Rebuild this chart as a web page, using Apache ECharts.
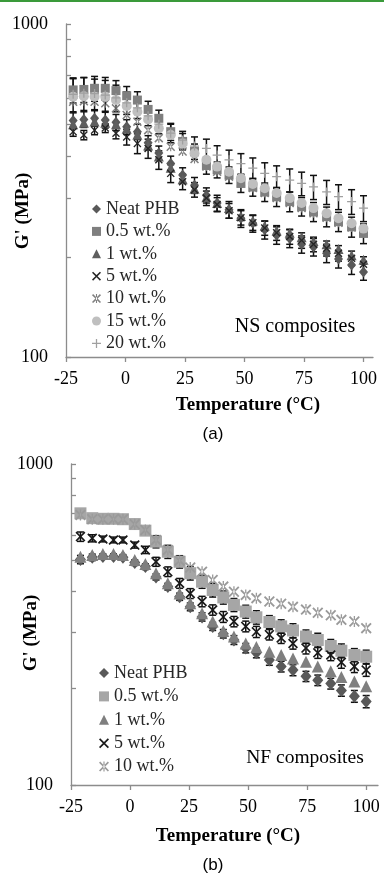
<!DOCTYPE html>
<html><head><meta charset="utf-8">
<script src="https://cdn.jsdelivr.net/npm/echarts@6/dist/echarts.min.js"></script>
<style>
html,body{margin:0;padding:0;background:#fff;width:384px;height:873px;overflow:hidden}
#a{position:absolute;left:0;top:0;width:384px;height:450px}
#b{position:absolute;left:0;top:450px;width:384px;height:423px}
</style></head>
<body><div id="a"></div><div id="b"></div>
<script>
// ---------- (a) NS composites ----------
const tempNS = [-22,-17.5,-13,-8.5,-4,0.5,5,9.5,14,19,24,29,34,38.5,43.5,48.5,53.5,58.5,63.5,69,74,79,84.5,89.5,95,100];
const nsNeat = [513,517,521,515,507,491,475,440,410,381,352,328,306,290,277,261,252,241,232,227,218,214,205,197,189,180];
const ns05   = [634,636,641,641,631,609,591,554,521,475,444,414,376,365,352,332,324,313,303,293,283,273,264,255,246,235];
const ns1    = [500,505,510,505,500,485,465,432,400,370,342,320,302,290,280,265,257,248,240,236,229,223,218,211,202,196];
const ns5    = [475,464,480,487,470,458,438,423,391,356,336,318,300,287,275,262,253,244,236,230,224,218,212,205,198,190];
const ns10   = [584,586,584,578,558,533,509,480,454,428,414,393,373,360,348,334,322,311,300,290,280,270,262,253,245,238];
const ns15   = [605,607,605,605,591,567,545,517,486,464,438,409,391,373,360,344,331,321,311,300,290,280,270,261,252,243];
const ns20   = [615,620,618,612,600,580,560,530,500,470,448,430,423,404,391,381,369,356,348,340,332,324,313,303,293,280];
const nsNeatErr = [28,28,28,28,28,25,25,22,20,20,18,18,16,16,16,16,15,15,14,14,13,13,13,12,12,10];
const ns05Err   = [55,55,55,50,45,40,35,32,30,28,25,22,22,20,20,20,20,20,20,20,18,18,18,17,17,16];
const ns5Err    = [15,15,15,15,18,25,30,28,25,22,18,16,15,14,14,13,13,12,12,12,12,11,11,11,10,10];
const ns20Err   = [70,70,65,65,55,45,40,35,32,30,28,28,28,27,27,27,27,27,27,27,27,27,26,26,25,25];
const nsNames = ['Neat PHB','0.5 wt.%','1 wt.%','5 wt.%','10 wt.%','15 wt.%','20 wt.%'];

// ---------- (b) NF composites ----------
const tempNF = [-21,-16,-11.5,-7,-3,2,6.5,11,16,21,25.5,30.5,35,39.5,44,49,53.5,59,64,69,74.5,79.5,85,89.5,95,100];
const nfNeat = [504,512,515,515,512,493,479,445,415,386,359,334,312,296,283,267,258,245,234,228,218,212,207,197,189,182];
const nf05   = [702,678,675,675,673,650,620,573,533,496,457,430,405,384,364,347,333,322,312,303,290,283,271,262,254,251];
const nf1    = [514,521,524,524,521,502,488,457,425,395,368,343,323,302,290,276,269,260,254,248,242,234,226,217,210,203];
const nf5    = [594,587,584,580,580,559,540,496,462,425,395,373,351,334,323,312,300,294,287,276,267,258,254,241,234,228];
const nf10   = [694,673,673,673,673,649,623,580,540,500,476,462,435,415,400,391,382,373,367,359,352,344,338,327,323,308];
const nfNeatErr = [15,12,10,10,10,10,10,10,10,10,10,10,9,9,9,9,9,9,9,9,8,8,8,8,8,8];
const nf05Err   = [20,15,12,12,12,15,18,25,25,22,22,20,20,18,17,16,16,15,15,15,14,14,13,13,12,12];
const nf5Err    = [20,15,12,12,12,12,14,16,16,15,14,14,13,13,12,12,12,11,11,11,11,10,10,10,10,10];
const nfNames = ['Neat PHB','0.5 wt.%','1 wt.%','5 wt.%','10 wt.%'];

// ---------- ticks ----------
const xTicks = [-25,0,25,50,75,100];
const yTicks = [100,200,300,400,500,600,700,800,900,1000];
const yLabels = [100,1000];

const SERIF = 'Liberation Serif';
const AXC = '#8c8c8c';
const X_PATH = 'path://M0,1.2 L1.2,0 L5,3.8 L8.8,0 L10,1.2 L6.2,5 L10,8.8 L8.8,10 L5,6.2 L1.2,10 L0,8.8 L3.8,5 Z';
const AST_PATH = 'path://M0,1.2 L1.2,0 L5,3.8 L8.8,0 L10,1.2 L6.2,5 L10,8.8 L8.8,10 L5,6.2 L1.2,10 L0,8.8 L3.8,5 Z M4.4,0 L4.4,10 L5.6,10 L5.6,0 Z';
const PLUS_PATH = 'path://M4.3,0 L5.7,0 L5.7,4.3 L10,4.3 L10,5.7 L5.7,5.7 L5.7,10 L4.3,10 L4.3,5.7 L0,5.7 L0,4.3 L4.3,4.3 Z';

function errRender(params, api) {
  const x = api.value(0), lo = api.value(1), hi = api.value(2);
  const p1 = api.coord([x, hi]), p2 = api.coord([x, lo]);
  const w = 3.5;
  const st = {stroke:'#111', lineWidth:1.5};
  return {type:'group', children:[
    {type:'line', shape:{x1:p1[0], y1:p1[1], x2:p2[0], y2:p2[1]}, style:st},
    {type:'line', shape:{x1:p1[0]-w, y1:p1[1], x2:p1[0]+w, y2:p1[1]}, style:st},
    {type:'line', shape:{x1:p2[0]-w, y1:p2[1], x2:p2[0]+w, y2:p2[1]}, style:st}
  ]};
}
function errSeries(temps, vals, errs) {
  return {type:'custom', silent:true, z:1, renderItem:errRender, clip:false,
    encode:{x:0, y:[1,2]},
    data: temps.map((t,i)=>[t, vals[i]-errs[i], vals[i]+errs[i]])};
}
function scat(name, temps, vals, symbol, size, color) {
  return {type:'scatter', name, symbol, symbolSize:size, z:2,
    itemStyle:{color, opacity:1},
    data: temps.map((t,i)=>[t, vals[i]])};
}
function axes(xmax) {
  return {
    xAxis: {type:'value', min:-25, max:xmax,
      axisLine:{show:true, onZero:false, lineStyle:{color:AXC, width:1.3}},
      axisTick:{show:true, length:5, customValues:xTicks, lineStyle:{color:AXC, width:1.3}},
      axisLabel:{customValues:xTicks, fontFamily:SERIF, fontSize:18, color:'#000', margin:13},
      splitLine:{show:false}},
    yAxis: {type:'log', logBase:10, min:100, max:1000,
      axisLine:{show:true, onZero:false, lineStyle:{color:AXC, width:1.3}},
      axisTick:{show:true, inside:true, length:5, customValues:yTicks, lineStyle:{color:AXC, width:1.3}},
      axisLabel:{customValues:yLabels, formatter:v=>String(Math.round(v)), fontFamily:SERIF, fontSize:18, color:'#000', margin:18},
      splitLine:{show:false}, minorTick:{show:false}}
  };
}
function txt(x, y, text, size, weight, family, rot) {
  return {type:'text', x, y, rotation:rot||0, z:10,
    style:{text, fontSize:size, fontWeight:weight||'normal', fontFamily:family||SERIF, fill:'#000',
      align:'center', verticalAlign:'middle', textAlign:'center', textVerticalAlign:'middle'}};
}

// ----- chart (a) -----
const ca = echarts.init(document.getElementById('a'), null, {renderer:'canvas'});
const axA = axes(104);
ca.setOption({
  animation:false,
  grid:{left:66, right:11, top:24, bottom:93, containLabel:false},
  xAxis: axA.xAxis, yAxis: axA.yAxis,
  legend:{orient:'vertical', left:92, top:200, padding:0, itemWidth:9, itemHeight:9, itemGap:4.4,
    selectedMode:false, data:nsNames,
    textStyle:{fontFamily:SERIF, fontSize:18, lineHeight:18, color:'#262626'}},
  graphic:[
    {type:'rect', shape:{x:0, y:0, width:384, height:2}, style:{fill:'#3a9a3a'}},
    txt(23, 211, "G' (MPa)", 19, 'bold', SERIF, Math.PI/2),
    txt(248, 405, 'Temperature (°C)', 19, 'bold'),
    txt(295, 327, 'NS composites', 20),
    txt(213, 434, '(a)', 17, 'normal', 'Liberation Sans')
  ],
  series:[
    errSeries(tempNS, ns20, ns20Err),
    errSeries(tempNS, ns05, ns05Err),
    errSeries(tempNS, nsNeat, nsNeatErr),
    errSeries(tempNS, ns5, ns5Err),
    scat(nsNames[0], tempNS, nsNeat, 'diamond', [9,11], '#595959'),
    scat(nsNames[1], tempNS, ns05, 'rect', 9, '#7f7f7f'),
    scat(nsNames[2], tempNS, ns1, 'triangle', [10,10], '#5f5f5f'),
    scat(nsNames[3], tempNS, ns5, X_PATH, 8, '#262626'),
    scat(nsNames[4], tempNS, ns10, AST_PATH, 9, '#808080'),
    scat(nsNames[5], tempNS, ns15, 'circle', 10, '#bfbfbf'),
    scat(nsNames[6], tempNS, ns20, PLUS_PATH, 9, '#a0a0a0')
  ]
});

// ----- chart (b) -----
const cb = echarts.init(document.getElementById('b'), null, {renderer:'canvas'});
const axB = axes(105);
cb.setOption({
  animation:false,
  grid:{left:71, right:6, top:14, bottom:88, containLabel:false},
  xAxis: axB.xAxis, yAxis: axB.yAxis,
  legend:{orient:'vertical', left:99, top:214, padding:0, itemWidth:10, itemHeight:10, itemGap:5.4,
    selectedMode:false, data:nfNames,
    textStyle:{fontFamily:SERIF, fontSize:18, lineHeight:18, color:'#262626'}},
  graphic:[
    txt(31, 183, "G' (MPa)", 19, 'bold', SERIF, Math.PI/2),
    txt(228, 386, 'Temperature (°C)', 19, 'bold'),
    txt(305, 308, 'NF composites', 19.5),
    txt(213, 415, '(b)', 17, 'normal', 'Liberation Sans')
  ],
  series:[
    errSeries(tempNF, nf05, nf05Err),
    errSeries(tempNF, nfNeat, nfNeatErr),
    errSeries(tempNF, nf5, nf5Err),
    scat(nfNames[0], tempNF, nfNeat, 'diamond', [11,13], '#595959'),
    scat(nfNames[1], tempNF, nf05, 'rect', 12, '#a6a6a6'),
    scat(nfNames[2], tempNF, nf1, 'triangle', [12,12], '#7f7f7f'),
    scat(nfNames[3], tempNF, nf5, X_PATH, 10, '#1a1a1a'),
    scat(nfNames[4], tempNF, nf10, AST_PATH, 11, '#9a9a9a')
  ]
});
</script>
</body></html>
